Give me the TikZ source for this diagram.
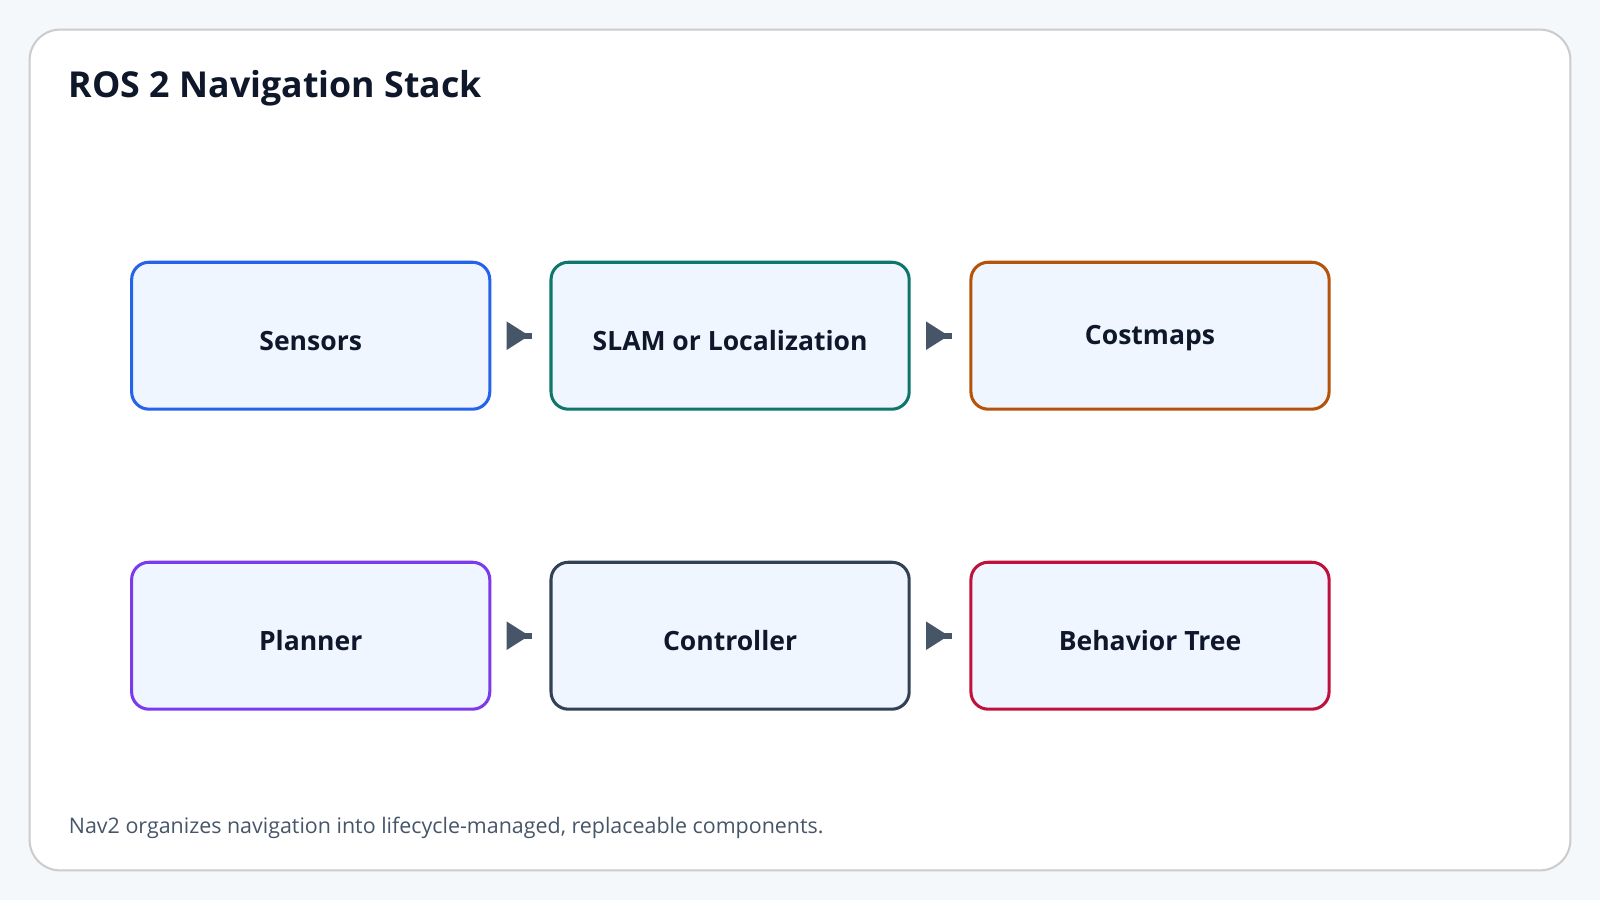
\documentclass[tikz,border=0pt]{standalone}
\usepackage{fontspec}
\setmainfont{Open Sans}
\usetikzlibrary{calc}
\begin{document}
\begin{tikzpicture}[x=1pt,y=-1pt,
  box/.style={draw=#1,line width=3pt,rounded corners=17pt,fill=boxfill,minimum width=351pt,minimum height=144pt,inner sep=0pt,font=\fontsize{26}{32}\selectfont\bfseries,text=titlec},
  lbl/.style={font=\fontsize{26}{32}\selectfont\bfseries,text=titlec}]
\definecolor{bg}{HTML}{F5F8FB}
\definecolor{boxfill}{HTML}{EFF6FF}
\definecolor{titlec}{HTML}{0F172A}
\definecolor{arrc}{HTML}{475569}
\definecolor{cblue}{HTML}{2563EB}
\definecolor{cteal}{HTML}{0F766E}
\definecolor{corange}{HTML}{B45309}
\definecolor{cpurple}{HTML}{7C3AED}
\definecolor{cslate}{HTML}{334155}
\definecolor{cred}{HTML}{BE123C}
\useasboundingbox (0,0) rectangle (1568,882);
\fill[bg] (0,0) rectangle (1568,882);
\draw[draw=black!20,line width=2pt,fill=white,rounded corners=30pt] (29,29) rectangle (1539,853);
\node[anchor=west,font=\fontsize{35}{42}\selectfont\bfseries,text=titlec] (title) at (64,86) {ROS 2 Navigation Stack};
\node[box=cblue] (s) at (304.5,329) {};
\node[box=cteal] (l) at (715.5,329) {};
\node[box=corange] (c) at (1127,329) {};
\node[box=cpurple] (p) at (304.5,623) {};
\node[box=cslate] (k) at (715.5,623) {};
\node[box=cred] (b) at (1127,623) {};
\node[lbl] (ts) at ($(s)+(0,5)$) {Sensors};
\node[lbl] (tl) at ($(l)+(0,5)$) {SLAM or Localization};
\node[lbl] (tc) at ($(c)+(0,2)$) {Costmaps};
\node[lbl] (tp) at ($(p)+(0,5)$) {Planner};
\node[lbl] (tk) at ($(k)+(0,5)$) {Controller};
\node[lbl] (tb) at ($(b)+(0,5)$) {Behavior Tree};
\foreach \a in {s,l,p,k}{
  \path (\a.east) ++(15,0) coordinate (t0);
  \fill[arrc] ($(t0)+(0,-14)$) -- ($(t0)+(22,0)$) -- ($(t0)+(0,14)$) -- cycle;
  \fill[arrc] ($(t0)+(10,-3)$) rectangle ($(t0)+(25,3)$);
}
\node[anchor=west,font=\fontsize{21}{26}\selectfont,text=arrc] (foot) at (64,811) {Nav2 organizes navigation into lifecycle-managed, replaceable components.};
\end{tikzpicture}
\end{document}
